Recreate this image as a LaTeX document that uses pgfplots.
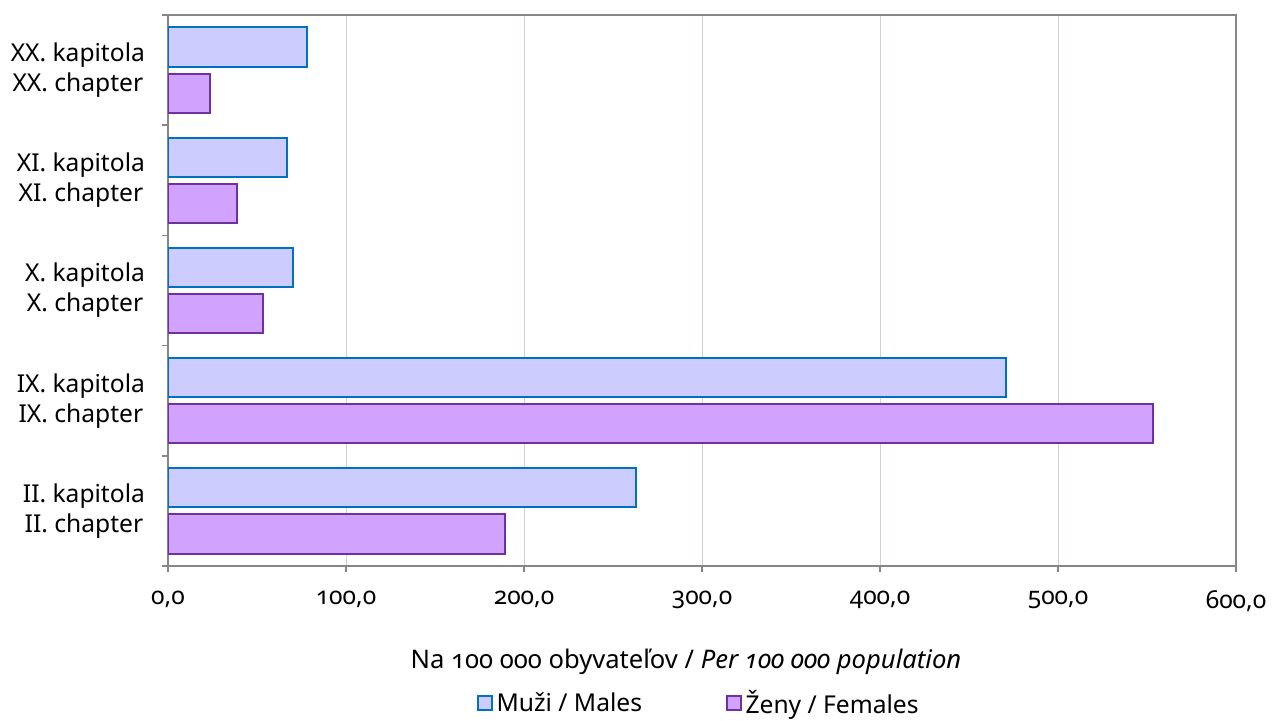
\documentclass[border=0pt]{standalone}
\usepackage{fontspec}
\setmainfont{Noto Sans}[Numbers=OldStyle]
\usepackage{pgfplots}
\pgfplotsset{compat=1.18}

\definecolor{malefill}{HTML}{CCCCFF}
\definecolor{maledraw}{HTML}{0070C0}
\definecolor{femfill}{HTML}{D1A3FF}
\definecolor{femdraw}{HTML}{7030A0}
\definecolor{axisgray}{HTML}{868686}
\definecolor{gridcol}{HTML}{C9D3DF}

\begin{document}
\begin{tikzpicture}
\path[use as bounding box] (-84pt,-77pt) rectangle (552pt,283pt);
\begin{axis}[
  at={(0,0)}, anchor=south west,
  scale only axis,
  width=534pt, height=275.5pt,
  xbar,
  bar width=0.355,
  xmin=0, xmax=600,
  ymin=-0.5, ymax=4.5,
  xtick={0,100,...,600},
  ytick={0,1,2,3,4},
  yticklabels={{II. kapitola\\II. chapter},{IX. kapitola\\IX. chapter},{X. kapitola\\X. chapter},{XI. kapitola\\XI. chapter},{XX. kapitola\\XX. chapter}},
  yticklabel style={align=center, font=\fontsize{12.3}{15}\selectfont, xshift=-5pt},
  xticklabel style={font=\fontsize{12.3}{14}\selectfont, yshift=-6pt},
  /pgf/number format/fixed,
  /pgf/number format/fixed zerofill,
  /pgf/number format/precision=1,
  /pgf/number format/use comma,
  /pgf/number format/1000 sep={},
  /pgf/number format/assume math mode=true,
  minor ytick={-0.5,0.5,...,4.5},
  major tick length=3pt,
  minor tick length=3pt,
  tick align=outside,
  major y tick style={draw=none},
  minor y tick style={draw=axisgray, line width=0.75pt},
  x tick style={draw=axisgray, line width=0.75pt},
  xmajorgrids,
  grid style={gridcol, line width=0.5pt},
  axis line style={axisgray, line width=0.75pt},
  tick pos=left,
  xlabel={Na 100 000 obyvateľov / \textit{Per 100 000 population}},
  xlabel style={font=\fontsize{12.8}{14}\selectfont, at={(0.485,0)}, yshift=-38pt},
  legend columns=2,
  legend style={draw=none, at={(0.498,-0.249)}, anchor=center, font=\fontsize{12.3}{14}\selectfont,
    /tikz/every even column/.append style={column sep=40pt}},
  legend image code/.code={\draw[#1, line width=0.75pt] (0pt,-3.5pt) rectangle (7pt,3.5pt);},
]
\addplot[fill=malefill, draw=maledraw, line width=1pt, bar shift=0.21]
  coordinates {(262.9,0) (470.8,1) (70.5,2) (67.0,3) (78.2,4)};
\addplot[fill=femfill, draw=femdraw, line width=1pt, bar shift=-0.21]
  coordinates {(189.3,0) (553.4,1) (53.4,2) (38.8,3) (23.6,4)};
\legend{Muži / Males, Ženy / Females}
\end{axis}
\end{tikzpicture}
\end{document}
